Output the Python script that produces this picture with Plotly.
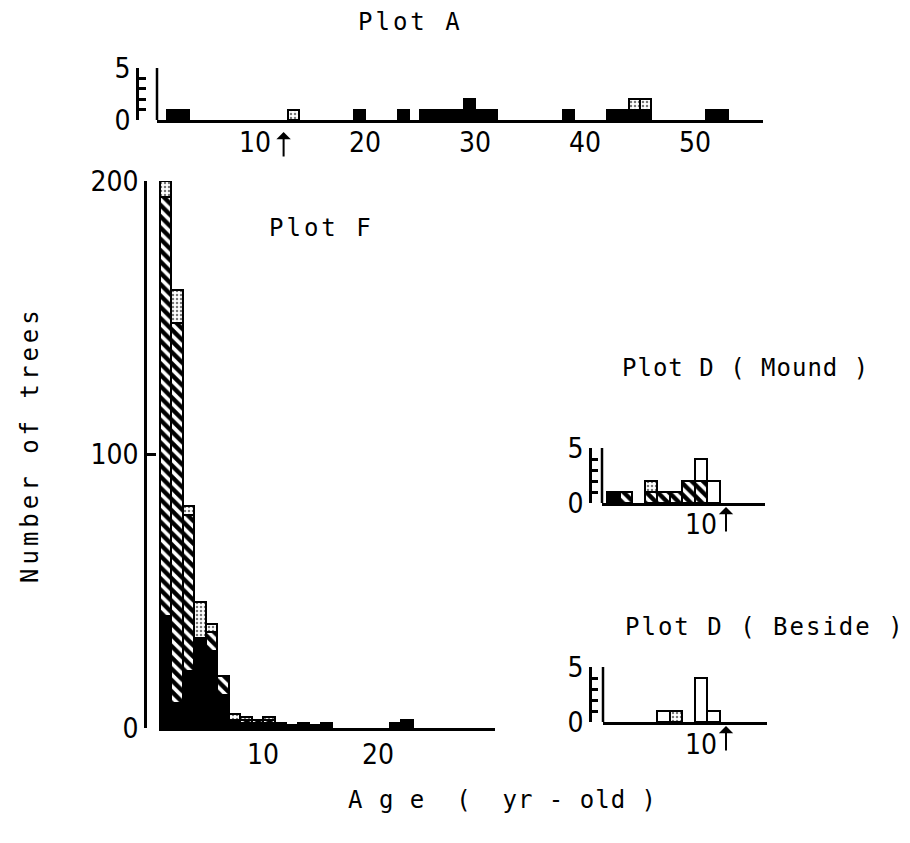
import plotly.graph_objects as go

W, H = 910, 843

# ---------------- data ----------------
# Plot A : age classes [age, age+1)
a_age    = [2, 3, 13, 19, 23, 25, 26, 27, 28, 29, 30, 31, 38, 42, 43, 44, 45, 51, 52]
a_black  = [1, 1, 0, 1, 1, 1, 1, 1, 1, 2, 1, 1, 1, 1, 1, 1, 1, 1, 1]
a_dotted = [0, 0, 1, 0, 0, 0, 0, 0, 0, 0, 0, 0, 0, 0, 0, 1, 1, 0, 0]

# Plot F : age classes [age, age+1)
f_age     = [1, 2, 3, 4, 5, 6, 7, 8, 9, 10, 11, 12, 13, 14, 15, 21, 22]
f_black   = [41, 9, 21, 33, 28, 12, 3, 2, 2, 2, 2, 1, 2, 1, 2, 2, 3]
f_hatched = [153, 139, 57, 0, 7, 7, 0, 1, 1, 1, 0, 0, 0, 0, 0, 0, 0]
f_dotted  = [6, 12, 3, 13, 3, 0, 2, 1, 0, 1, 0, 0, 0, 0, 0, 0, 0]

# Plot D (Mound) : bars centred on age
m_age     = [3, 4, 6, 7, 8, 9, 10, 11]
m_black   = [1, 0, 0, 0, 0, 0, 0, 0]
m_hatched = [0, 1, 1, 1, 1, 2, 2, 0]
m_dotted  = [0, 0, 1, 0, 0, 0, 0, 0]
m_open    = [0, 0, 0, 0, 0, 0, 2, 2]

# Plot D (Beside) : bars centred on age
b_age    = [7, 8, 10, 11]
b_dotted = [0, 1, 0, 0]
b_open   = [1, 0, 4, 1]

a_xticks = [10, 20, 30, 40, 50]
f_xticks = [10, 20]
d_xticks = [10]
f_yticks = [0, 100, 200]
small_yticks = [0, 1, 2, 3, 4, 5]
small_yticktext = ["0", "", "", "", "", "5"]

arrow_age_a = 12.6
arrow_age_d = 12

# ---------------- styles ----------------
NUM_FONT = dict(family="Liberation Sans Narrow, DejaVu Sans Condensed, Liberation Sans",
                size=28, color="black")
TXT_FONT = dict(family="DejaVu Sans Mono, Liberation Mono", size=24, color="black")
OUTLINE = dict(color="black", width=2)

STYLE = {
    "black":   dict(color="black", line=OUTLINE),
    "hatched": dict(color="white", line=OUTLINE,
                    pattern=dict(shape="\\", fgcolor="black", bgcolor="white",
                                 size=8, solidity=0.55)),
    "dotted":  dict(color="white", line=OUTLINE,
                    pattern=dict(shape=".", fgcolor="#777777", bgcolor="white",
                                 size=4, solidity=0.3)),
    "open":    dict(color="white", line=OUTLINE),
}


def nz(vals):
    return [v if v else None for v in vals]


fig = go.Figure()


def add_stack(ages, series, xa, ya, left_aligned):
    for kind, vals in series:
        kw = dict(offset=0) if left_aligned else {}
        fig.add_trace(go.Bar(x=ages, y=nz(vals), width=1, marker=STYLE[kind],
                             xaxis=xa, yaxis=ya, showlegend=False,
                             hoverinfo="skip", **kw))


add_stack(a_age, [("black", a_black), ("dotted", a_dotted)], "x", "y", True)
add_stack(f_age, [("black", f_black), ("hatched", f_hatched), ("dotted", f_dotted)],
          "x2", "y2", True)
add_stack(m_age, [("black", m_black), ("hatched", m_hatched), ("dotted", m_dotted),
                  ("open", m_open)], "x3", "y3", False)
add_stack(b_age, [("dotted", b_dotted), ("open", b_open)], "x4", "y4", False)


# ---------------- axes ----------------
def xdom(p0, p1):
    return [p0 / W, p1 / W]


def ydom(p_bottom, p_top):
    return [1 - p_bottom / H, 1 - p_top / H]


def x_axis(dom, rng, anchor, ticks, standoff):
    return dict(domain=xdom(*dom), range=rng, anchor=anchor, showline=True,
                linewidth=3, linecolor="black", ticks="", tickvals=ticks,
                showgrid=False, zeroline=False, tickfont=NUM_FONT,
                ticklabelstandoff=standoff, automargin=False, fixedrange=True)


def y_axis(dom, rng, pos, ticks, text, ticklen):
    return dict(domain=ydom(*dom), range=rng, anchor="free", position=pos / W,
                showline=True, linewidth=2.5, linecolor="black", ticks="inside",
                ticklen=ticklen, tickwidth=2.5, tickcolor="black",
                tickvals=ticks, ticktext=text, showgrid=False, zeroline=False,
                tickfont=NUM_FONT, automargin=False, fixedrange=True)


# pixel scales of each panel
A0, AS = 145, 11.0      # Plot A: px of age 0, px per year
F0, FS = 148, 11.5      # Plot F
D0, DS = 576, 12.5      # Plot D panels

fig.update_layout(
    xaxis=x_axis((157, 763), [(157 - A0) / AS, (763 - A0) / AS], "y", a_xticks, -5),
    yaxis=y_axis((120, 68), [0, 5], 137, small_yticks, small_yticktext, 7),
    xaxis2=x_axis((159, 495), [(159 - F0) / FS, (495 - F0) / FS], "y2", f_xticks, -1),
    yaxis2=y_axis((728, 181), [0, 200], 145, f_yticks, [str(v) for v in f_yticks], 9),
    xaxis3=x_axis((602, 765), [(602 - D0) / DS, (765 - D0) / DS], "y3", d_xticks, -6),
    yaxis3=y_axis((503, 448), [0, 5], 590, small_yticks, small_yticktext, 6),
    xaxis4=x_axis((603, 767), [(603 - D0) / DS, (767 - D0) / DS], "y4", d_xticks, -5),
    yaxis4=y_axis((722, 667), [0, 5], 590, small_yticks, small_yticktext, 6),
)

# inner vertical axis lines of the small panels
shapes = []
for xa, ya in (("x", "y"), ("x3", "y3"), ("x4", "y4")):
    shapes.append(dict(type="line", xref=f"{xa} domain", yref=ya, x0=0, x1=0,
                       y0=0, y1=5, line=dict(color="black", width=2.5)))


def label(text, x, y, angle=0, spacing=3):
    styled = f'<span style="letter-spacing:{spacing}px">{text}</span>'
    return dict(text=styled, x=x / W, y=1 - y / H, xref="paper", yref="paper",
                showarrow=False, font=TXT_FONT, textangle=angle,
                xanchor="center", yanchor="middle")


annotations = [
    label("Plot A", 410, 22),
    label("Plot F", 321, 228),
    label("Plot D ( Mound )", 745, 368, spacing=1),
    label("Plot D ( Beside )", 765, 627, spacing=2),
    label("Number of trees", 30, 445, -90, spacing=4),
    label("A g e  (  yr - old )", 502, 800, spacing=1),
]


def arrow(xa, age, y_px):
    return dict(x=age, xref=xa, y=1 - y_px / H, yref="paper", text="",
                showarrow=True, arrowhead=1, arrowsize=1.2, arrowwidth=2,
                arrowcolor="black", ax=0, ay=26)


annotations += [
    arrow("x", arrow_age_a, 132),
    arrow("x3", arrow_age_d, 507),
    arrow("x4", arrow_age_d, 726),
]

fig.update_layout(
    template="none",
    width=W, height=H, margin=dict(l=0, r=0, t=0, b=0, pad=0),
    paper_bgcolor="white", plot_bgcolor="white",
    barmode="stack", bargap=0, showlegend=False,
    shapes=shapes, annotations=annotations,
)

fig.write_html("out.html")
